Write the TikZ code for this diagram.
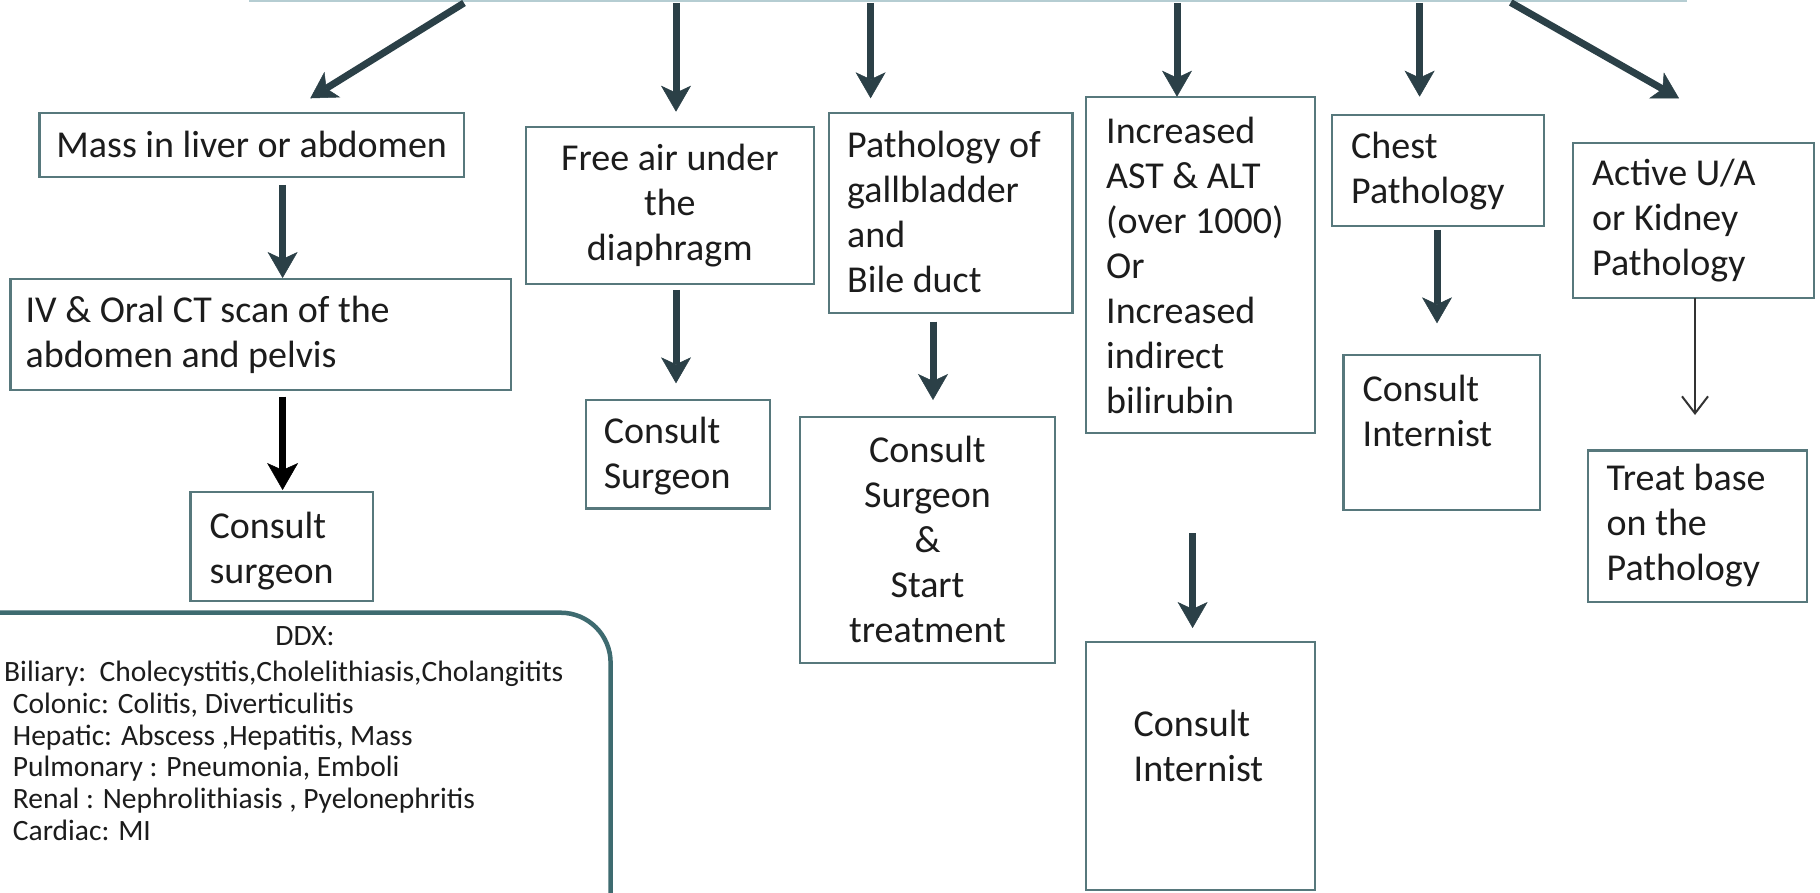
\documentclass[tikz,border=0pt]{standalone}
\usepackage{fontspec}
\setmainfont{Carlito}
\usetikzlibrary{arrows.meta,calc}

\definecolor{arrowc}{HTML}{2B4047}
\definecolor{boxc}{HTML}{57787C}
\definecolor{ddxc}{HTML}{3E6B70}
\definecolor{topc}{HTML}{B5CDD2}
\definecolor{inkc}{HTML}{1C1C1C}
\definecolor{thinc}{HTML}{333333}

\tikzset{
  box/.style={draw=boxc, line width=2.2pt, anchor=north west, inner sep=0pt, outer sep=0pt},
  topbox/.style={draw=topc, line width=2pt, anchor=south west, inner sep=0pt, outer sep=0pt},
  ddxbox/.style={draw=ddxc, line width=4.5pt, rounded corners=50pt, anchor=north east, inner sep=0pt, outer sep=0pt},
  txt/.style={text=inkc, font=\fontsize{38}{45}\selectfont, inner sep=0pt, align=left},
  ctxt/.style={txt, align=center},
  ddxtxt/.style={text=inkc, font=\fontsize{29.5}{32}\selectfont, inner sep=0pt},
  flow/.style={draw=arrowc, line width=7pt, -{Stealth[length=26pt, width=30pt, inset=7pt, line width=0.5pt]}},
  darkflow/.style={draw=black, line width=7.5pt, -{Stealth[length=27pt, width=31pt, inset=7pt, line width=0.5pt]}},
  thinflow/.style={draw=thinc, line width=2pt, -{Straight Barb[length=17pt, width=26pt, line width=2pt]}}
}

\begin{document}
\begin{tikzpicture}[x=1pt, y=-1pt]
\useasboundingbox (0,0) rectangle (1820,893);
\clip (0,0) rectangle (1820,893);
\fill[white] (0,0) rectangle (1820,893);

% header box, only its lower edge is in view
\node[topbox, minimum width=1436pt, minimum height=40pt] (top) at (250,1.5) {};

% boxes
\node[box, minimum width=424.5pt, minimum height=64pt]    (mass)   at (39.5,112.7)  {};
\node[box, minimum width=500.3pt, minimum height=110.7pt] (iv)     at (10.4,279.3)  {};
\node[box, minimum width=182.8pt, minimum height=109.3pt] (cs1)    at (190.4,491.7) {};
\node[box, minimum width=287.7pt, minimum height=157.3pt] (free)   at (526,126.7)   {};
\node[box, minimum width=183.6pt, minimum height=108.4pt] (cs2)    at (586,400)     {};
\node[box, minimum width=243.5pt, minimum height=200.6pt] (path)   at (829,112.7)   {};
\node[box, minimum width=255pt,   minimum height=246pt]   (cs3)    at (800,416.7)   {};
\node[box, minimum width=229pt,   minimum height=336pt]   (incr)   at (1086,97.3)   {};
\node[box, minimum width=229pt,   minimum height=248.3pt] (ci1)    at (1086,641.7)  {};
\node[box, minimum width=212pt,   minimum height=110.7pt] (chest)  at (1332,115)    {};
\node[box, minimum width=196.5pt, minimum height=155pt]   (ci2)    at (1343.5,355)  {};
\node[box, minimum width=241pt,   minimum height=154.4pt] (active) at (1573,143.3)  {};
\node[box, minimum width=219pt,   minimum height=151.3pt] (treat)  at (1588,450.4)  {};

% differential diagnosis panel
\node[ddxbox, minimum width=700pt, minimum height=400pt] (ddx) at (610.6,612.7) {};

% box texts
\node[ctxt] (mass-t) at (mass.center) {Mass in liver or abdomen};
\node[txt, anchor=west] (iv-t) at ($(iv.west)+(15,0)$) {IV \& Oral CT scan of the\\abdomen and pelvis};
\node[txt, anchor=west] (cs1-t) at ($(cs1.west)+(19,5)$) {Consult\\surgeon};
\node[ctxt] (free-t) at (free.center) {Free air under\\the\\diaphragm};
\node[txt, anchor=west] (cs2-t) at ($(cs2.west)+(17.6,2)$) {Consult\\Surgeon};
\node[txt, anchor=west] (path-t) at ($(path.west)+(18,-1)$) {Pathology of\\gallbladder\\and\\Bile duct};
\node[ctxt] (cs3-t) at (cs3.center) {Consult\\Surgeon\\\&\\Start\\treatment};
\node[txt, anchor=west] (incr-t) at ($(incr.west)+(20,0)$) {Increased\\AST \& ALT\\(over 1000)\\Or\\Increased\\indirect\\bilirubin};
\node[txt, anchor=west] (ci1-t) at ($(ci1.west)+(47.5,-20)$) {Consult\\Internist};
\node[txt, anchor=west] (chest-t) at ($(chest.west)+(19,1)$) {Chest\\Pathology};
\node[txt, anchor=west] (ci2-t) at ($(ci2.west)+(19,-22)$) {Consult\\Internist};
\node[txt, anchor=west] (active-t) at ($(active.west)+(19,0)$) {Active U/A\\or Kidney\\Pathology};
\node[txt, anchor=west] (treat-t) at ($(treat.west)+(18.5,0)$) {Treat base\\on the\\Pathology};

% DDX list
\node[ddxtxt, anchor=base] (ddx-h) at (305,645) {DDX:};
\node[ddxtxt, anchor=base west] (d1) at (4,681.7)    {Biliary:\ \ Cholecystitis,Cholelithiasis,Cholangitits};
\node[ddxtxt, anchor=base west] (d2) at (12.7,713.5) {Colonic: Colitis, Diverticulitis};
\node[ddxtxt, anchor=base west] (d3) at (12.7,745)   {Hepatic: Abscess ,Hepatitis, Mass};
\node[ddxtxt, anchor=base west] (d4) at (12.7,776.5) {Pulmonary : Pneumonia, Emboli};
\node[ddxtxt, anchor=base west] (d5) at (12.7,808)   {Renal : Nephrolithiasis , Pyelonephritis};
\node[ddxtxt, anchor=base west] (d6) at (12.7,840)   {Cardiac: MI};

% connector start points
\coordinate (a1)  at ($(top.south west)+(214,1.5)$);
\coordinate (a2)  at ($(mass.south west)+(243.1,8.3)$);
\coordinate (a3)  at ($(iv.south west)+(272.2,6.7)$);
\coordinate (a4)  at ($(top.south west)+(426,1.5)$);
\coordinate (a5)  at ($(free.south west)+(150,6)$);
\coordinate (a6)  at ($(top.south west)+(620.6,1.5)$);
\coordinate (a7)  at ($(path.south west)+(104,8.4)$);
\coordinate (a8)  at ($(top.south west)+(927,1.5)$);
\coordinate (a9)  at ($(incr.south west)+(106.6,99.7)$);
\coordinate (a10) at ($(top.south west)+(1169.6,1.5)$);
\coordinate (a11) at ($(chest.south west)+(105,4.3)$);
\coordinate (a12) at ($(top.south west)+(1260.7,1)$);
\coordinate (a13) at ($(active.south west)+(122,0)$);

% connectors
\draw[flow] (a1) -- ($(mass.north)+(58.5,-14.4)$);
\draw[flow, shorten >=1.3pt] (a2) -- (a2 |- iv.north);
\draw[darkflow, shorten >=1.7pt] (a3) -- (a3 |- cs1.north);
\draw[flow, shorten >=15pt] (a4) -- (a4 |- free.north);
\draw[flow, shorten >=16.7pt] (a5) -- (a5 |- cs2.north);
\draw[flow, shorten >=14.4pt] (a6) -- (a6 |- path.north);
\draw[flow, shorten >=16.7pt] (a7) -- (a7 |- cs3.north);
\draw[flow, shorten >=0.6pt] (a8) -- (a8 |- incr.north);
\draw[flow, shorten >=13.7pt] (a9) -- (a9 |- ci1.north);
\draw[flow, shorten >=18.3pt] (a10) -- (a10 |- chest.north);
\draw[flow, shorten >=31.7pt] (a11) -- (a11 |- ci2.north);
\draw[flow] (a12) -- ($(active.north)+(-14.5,-45)$);
\draw[thinflow, shorten >=35.4pt] (a13) -- (a13 |- treat.north);
\end{tikzpicture}
\end{document}
